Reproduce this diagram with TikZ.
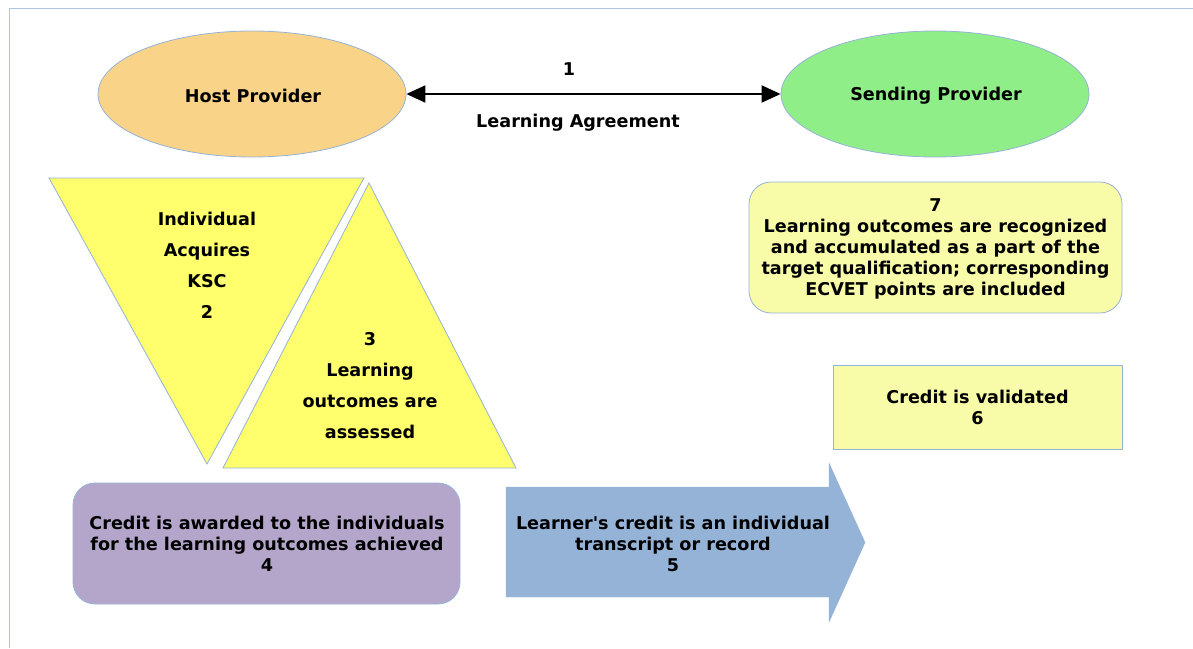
\documentclass[tikz,border=0pt]{standalone}
\usepackage{fontspec}
\setmainfont{DejaVu Sans}
\usetikzlibrary{shapes.geometric,arrows.meta}
\definecolor{edgeblue}{HTML}{95B3D7}
\definecolor{framecol}{HTML}{B0C6E2}
\definecolor{hostcol}{HTML}{F9D387}
\definecolor{sendcol}{HTML}{90EE88}
\definecolor{trianglecol}{HTML}{FFFF6E}
\definecolor{paleyellow}{HTML}{F8FBA8}
\definecolor{purplecol}{HTML}{B4A6CA}
\definecolor{arrowcol}{HTML}{95B3D7}
\tikzset{
  lbl/.style={font=\bfseries\fontsize{17.6}{21}\selectfont, align=center, inner sep=0pt, text=black},
  tlbl/.style={font=\bfseries\fontsize{17.6}{31}\selectfont, align=center, inner sep=0pt, text=black},
  shapeline/.style={draw=edgeblue, line width=0.8pt},
}
\begin{document}
\begin{tikzpicture}[x=1pt,y=-1pt]
\useasboundingbox (0,0) rectangle (1193,648);
% frame
\draw[framecol, line width=1.4pt] (1193,8.5) -- (9.5,8.5) -- (9.5,648);
% ellipses
\node[ellipse, shapeline, fill=hostcol, minimum width=308pt, minimum height=126pt, inner sep=0pt] (host) at (252,94) {};
\node[lbl] (hostt) at (253,96) {Host Provider};
\node[ellipse, shapeline, fill=sendcol, minimum width=308pt, minimum height=126pt, inner sep=0pt] (send) at (935,94) {};
\node[lbl] (sendt) at (936,96) {Sending Provider};
\draw[line width=2pt, {Triangle[length=19pt,width=17pt]}-{Triangle[length=19pt,width=17pt]}] (host.east) -- (send.west);
\node[lbl] (one) at (569,69) {1};
\node[lbl] (agree) at (578,123) {Learning Agreement};
% triangles
\filldraw[shapeline, fill=trianglecol] (49,178) -- (364,178) -- (207,464) -- cycle;
\node[tlbl] (t2) at (207,265) {Individual\\Acquires\\KSC\\2};
\filldraw[shapeline, fill=trianglecol] (369,183) -- (516,468) -- (223,468) -- cycle;
\node[tlbl] (t3) at (370,386) {3\\Learning\\outcomes are\\assessed};
% box 7
\filldraw[shapeline, fill=paleyellow, rounded corners=22pt] (749,182) rectangle (1122,313);
\node[lbl] (b7) at (935.5,248.5) {7\\Learning outcomes are recognized\\and accumulated as a part of the\\target qualification; corresponding\\ECVET points are included};
% box 6
\filldraw[shapeline, fill=paleyellow] (833,365) rectangle (1122,449);
\node[lbl] (b6) at (977.5,407.5) {Credit is validated\\6};
% box 4
\filldraw[shapeline, fill=purplecol, rounded corners=22pt] (73,483) rectangle (460,604);
\node[lbl] (b4) at (267,544) {Credit is awarded to the individuals\\for the learning outcomes achieved\\4};
% arrow 5
\filldraw[draw=arrowcol, fill=arrowcol] (506,487) -- (829,487) -- (829,463) -- (865,542.5) -- (829,622) -- (829,597) -- (506,597) -- cycle;
\node[lbl] (b5) at (673,544) {Learner\textquotesingle s credit is an individual\\transcript or record\\5};
\end{tikzpicture}
\end{document}
